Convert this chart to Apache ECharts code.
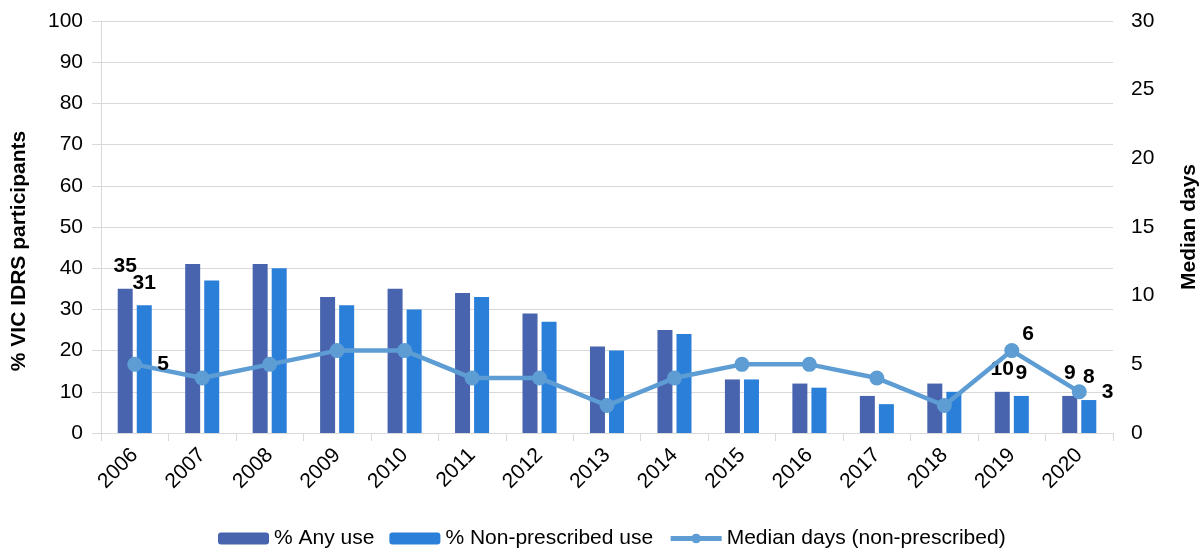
<!DOCTYPE html>
<html><head><meta charset="utf-8">
<script src="https://cdn.jsdelivr.net/npm/echarts@6/dist/echarts.min.js"></script>
<style>html,body{margin:0;padding:0;background:#fff}#c{width:1200px;height:550px}</style>
</head><body><div id="c"></div>
<script>
const years = ['2006','2007','2008','2009','2010','2011','2012','2013','2014','2015','2016','2017','2018','2019','2020'];
const anyUse = [35,41,41,33,35,34,29,21,25,13,12,9,12,10,9];
const nonPrescribed = [31,37,40,31,30,33,27,20,24,13,11,7,10,9,8];
const medianDays = [5,4,5,6,6,4,4,2,4,5,5,4,2,6,3];
const leftTicks = [0,100,10];
const rightTicks = [0,30,5];
const labelledYears = ['2006','2019','2020'];

const FONT = '"Liberation Sans", Arial, sans-serif';
const FS = 21;
const lblBar = {show:true, position:'top', distance:12, color:'#000', fontWeight:'bold', fontSize:FS, fontFamily:FONT,
  formatter: p => labelledYears.includes(p.name) ? String(p.value) : ''};
const lineLabel = p => labelledYears.includes(p.name) ? String(p.value) : '';

const chart = echarts.init(document.getElementById('c'));
chart.setOption({
  animation:false,
  textStyle:{fontFamily:FONT},
  grid:{left:101, right:87, top:21, bottom:117, containLabel:false, outerBoundsMode:'none'},
  legend:{top:523, left:213, itemWidth:51, itemHeight:12, itemGap:15,
    textStyle:{fontSize:FS, color:'#000', fontFamily:FONT},
    data:[{name:'% Any use'},{name:'% Non-prescribed use'},
      {name:'Median days (non-prescribed)', lineStyle:{width:5}}]},
  xAxis:{type:'category', data:years,
    axisLine:{lineStyle:{color:'#d9d9d9', width:1}},
    axisTick:{show:true, alignWithLabel:false, length:8, lineStyle:{color:'#d9d9d9'}},
    axisLabel:{rotate:45, fontSize:FS, color:'#000', margin:19, fontFamily:FONT}},
  yAxis:[
    {type:'value', min:leftTicks[0], max:leftTicks[1], interval:leftTicks[2],
     name:'% VIC IDRS participants', nameLocation:'middle', nameGap:71, nameRotate:90,
     nameTextStyle:{fontSize:FS, fontWeight:'bold', color:'#000', fontFamily:FONT, padding:[0,48,0,0]},
     axisLine:{show:true, lineStyle:{color:'#d9d9d9'}},
     axisTick:{show:true, length:9, lineStyle:{color:'#d9d9d9'}},
     axisLabel:{fontSize:FS, color:'#000', margin:18},
     splitLine:{lineStyle:{color:'#d9d9d9', width:1}}},
    {type:'value', min:rightTicks[0], max:rightTicks[1], interval:rightTicks[2],
     name:'Median days', nameLocation:'middle', nameGap:66, nameRotate:90,
     nameTextStyle:{fontSize:FS, fontWeight:'bold', color:'#000', fontFamily:FONT},
     axisLine:{show:false}, axisTick:{show:false},
     axisLabel:{fontSize:FS, color:'#000', margin:18},
     splitLine:{show:false}}
  ],
  series:[
    {name:'% Any use', type:'bar', data:anyUse, barWidth:15, barGap:'27%',
     itemStyle:{color:'#4864ae'}, label:lblBar},
    {name:'% Non-prescribed use', type:'bar', data:nonPrescribed, barWidth:15, barGap:'27%',
     itemStyle:{color:'#2a7fd8'}, label:lblBar},
    {name:'Median days (non-prescribed)', type:'line', yAxisIndex:1, data:medianDays,
     symbol:'circle', symbolSize:15, lineStyle:{color:'#5d9dd4', width:4.5}, itemStyle:{color:'#5d9dd4'},
     label:{show:true, position:'right', distance:15, color:'#000', fontWeight:'bold', fontSize:FS,
       formatter: lineLabel},
     labelLayout: p => p.dataIndex === 13 ? {dx:-12, dy:-16} : {}}
  ]
});
</script></body></html>
